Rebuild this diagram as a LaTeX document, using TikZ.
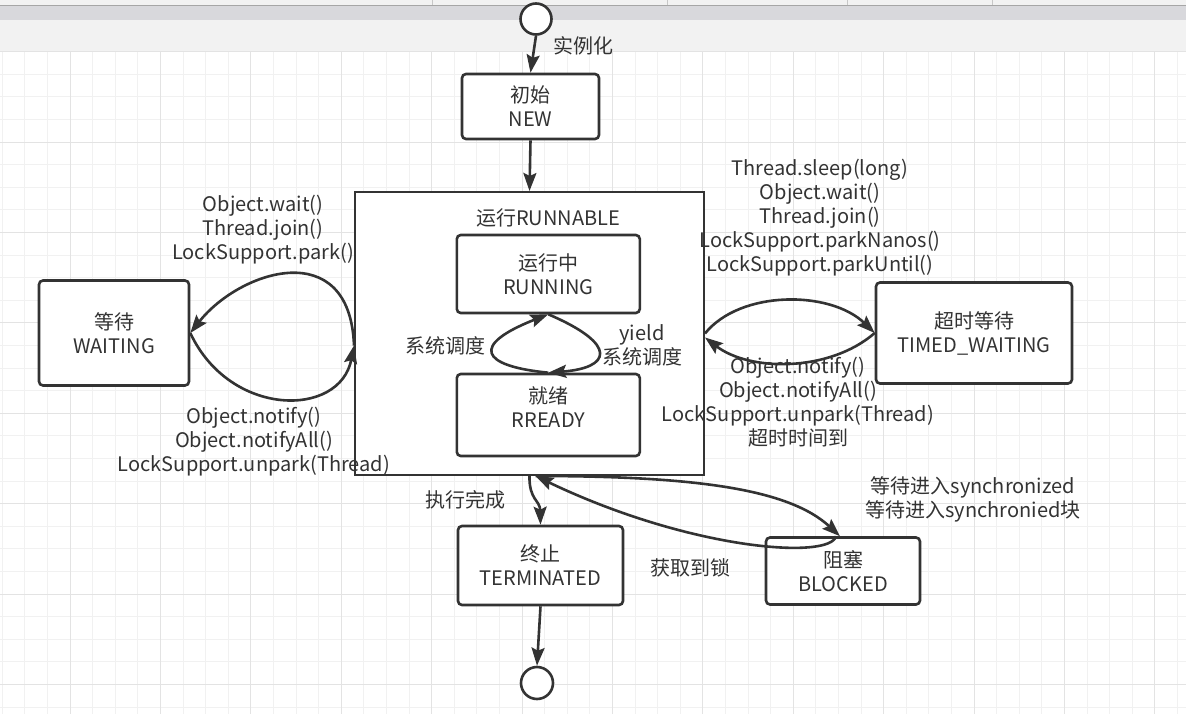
\documentclass[tikz,border=0pt]{standalone}
\usepackage{fontspec}
\setmainfont{Noto Sans CJK SC}
\usepackage{tikz}
\usetikzlibrary{calc,shapes,arrows.meta}

\definecolor{ink}{HTML}{333333}
\definecolor{gridminor}{HTML}{F1F1F1}
\definecolor{gridmajor}{HTML}{E3E3E3}
\definecolor{barband}{HTML}{D8D8DC}
\definecolor{barlight}{HTML}{F2F2F2}

\tikzset{
  state/.style={draw=ink, line width=2.6pt, rounded corners=4pt, fill=white, align=center, text=ink, inner sep=0pt},
  pseudo/.style={circle, draw=ink, line width=2.6pt, fill=white, minimum size=31pt, inner sep=0pt},
  lbl/.style={align=center, text=ink, inner sep=0pt},
  flow/.style={draw=ink, line width=2.6pt, -{Stealth[length=18pt,width=13pt,inset=3pt]}},
}

\begin{document}
\begin{tikzpicture}[x=1pt, y=-1pt, font=\fontsize{20}{24}\selectfont]
        \useasboundingbox (0,0) rectangle (1186,714);
        \fill[white] (0,0) rectangle (1186,714);
        \fill[barlight] (0,0) rectangle (1186,5.5);
        \foreach \x in {432,667,847,992}
        \draw[black!22] (\x,0) -- (\x,5.5);
        \draw[black!35] (0,5.5) -- (1186,5.5);
        \fill[barband] (0,6) rectangle (1186,20.5);
        \fill[barlight] (0,20.5) rectangle (1186,51.7);
        \foreach \k in {0,...,52}
        \draw[gridminor, line width=1pt] ({2.3+22.6*\k},51.7) -- ({2.3+22.6*\k},714);
        \foreach \k in {0,...,29}
        \draw[gridminor, line width=1pt] (0,{51.7+22.6*\k}) -- (1186,{51.7+22.6*\k});
        \foreach \k in {3,7,...,51}
        \draw[gridmajor, line width=1pt] ({2.3+22.6*\k},51.7) -- ({2.3+22.6*\k},714);
        \foreach \k in {0,4,...,28}
        \draw[gridmajor, line width=1pt] (0,{51.7+22.6*\k}) -- (1186,{51.7+22.6*\k});

        \node[draw=ink, line width=2pt, fill=white, minimum width=349pt, minimum height=283pt, inner sep=0pt] (runnable) at (529.5,333.5) {};
        \node[lbl] (runtitle) at (548,218) {运行RUNNABLE};

        \node[pseudo] (start) at (536,19) {};
        \node[state, minimum width=137pt, minimum height=65pt] (new) at (530.5,106.5) {初始\\NEW};
        \node[state, minimum width=183pt, minimum height=78pt] (running) at (548.3,274) {运行中\\RUNNING};
        \node[state, minimum width=183pt, minimum height=82pt] (ready) at (548.3,415) {就绪\\RREADY\\[-8pt]};
        \node[state, minimum width=150pt, minimum height=105pt] (waiting) at (114,333) {等待\\WAITING};
        \node[state, minimum width=196pt, minimum height=101pt] (timed) at (974,333) {超时等待\\TIMED\_WAITING};
        \node[state, minimum width=165pt, minimum height=79pt] (term) at (540.5,565.5) {终止\\TERMINATED};
        \node[state, minimum width=154pt, minimum height=67pt] (blocked) at (843,571) {阻塞\\BLOCKED};
        \node[pseudo, minimum size=32pt] (end) at (537,683) {};

        \draw[flow] (start.south) -- (new.north);
        \draw[flow] (new.south) -- (runnable.north);

        \draw[flow] (ready.north) .. controls (480,366) and (470,345) .. (running.south);
        \draw[flow] (running.south) .. controls (620,345) and (610,368) .. (ready.north);

        \draw[flow] ([yshift=-12pt]runnable.west) .. controls (350,235) and (240,270) .. (waiting.east);
        \draw[flow] (waiting.east) .. controls (230,418) and (340,418) .. ([yshift=-12pt]runnable.west);

        \draw[flow] (runnable.east) .. controls (740,290) and (830,290) .. (timed.west);
        \draw[flow] (timed.west) .. controls (830,372) and (750,372) .. ([yshift=-4pt]runnable.east);

        \draw[flow] (runnable.south) .. controls (529,500) and (540,500) .. (term.north);
        \draw[flow] (term.south) -- (end.north);

        \draw[flow] ([xshift=6pt]runnable.south) .. controls (700,476) and (790,490) .. ([xshift=-3pt]blocked.north);
        \draw[flow] ([xshift=-7pt]blocked.north) .. controls (830,560) and (690,550) .. ([xshift=6pt]runnable.south);

        \node[lbl] (lnew) at (583,46) {实例化};
        \node[lbl] (lsched) at (445,346) {系统调度};
        \node[lbl] (lyield) at (642,345) {yield\\系统调度};
        \node[lbl] (lwait) at (263,230) {Object.wait()\\Thread.join()\\LockSupport.park()};
        \node[lbl] (lnotify) at (254,442) {Object.notify()\\Object.notifyAll()\\LockSupport.unpark(Thread)};
        \node[lbl] (ltwait) at (820,218) {Thread.sleep(long)\\Object.wait()\\Thread.join()\\LockSupport.parkNanos()\\LockSupport.parkUntil()};
        \node[lbl] (ltnotify) at (798,402.5) {Object.notify()\\Object.notifyAll()\\LockSupport.unpark(Thread)\\超时时间到};
        \node[lbl] (ldone) at (465,500) {执行完成};
        \node[lbl] (llock) at (690,568) {获取到锁};
        \node[lbl] (lsync) at (973,499) {等待进入synchronized\\等待进入synchronied块};
    \end{tikzpicture}
\end{document}
